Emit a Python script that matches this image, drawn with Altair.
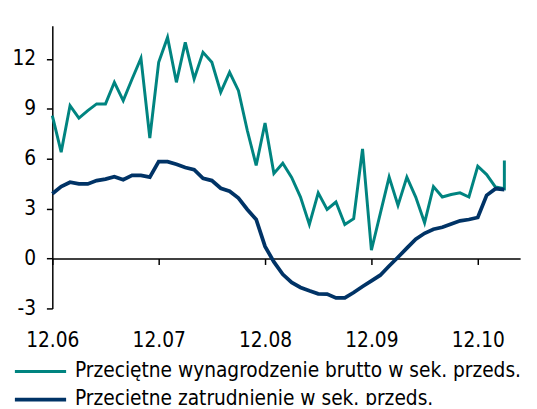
import altair as alt
import pandas as pd

# ---- data ----
series_names = [
    "Przeciętne wynagrodzenie brutto w sek. przeds.",
    "Przeciętne zatrudnienie w sek. przeds.",
]
# month index (0 = 12.06)
wage_idx = list(range(52)) + [51]
wage = [8.6, 6.4, 9.2, 8.45, 8.9, 9.3, 9.3, 10.6, 9.5, 10.8,
        12.05, 7.25, 11.8, 13.3, 10.6, 13.0, 10.8, 12.4, 11.8, 10.0,
        11.2, 10.1, 7.7, 5.6, 8.15, 5.12, 5.73, 4.88, 3.7, 2.05,
        3.95, 2.95, 3.4, 2.05, 2.4, 6.6, 0.5, 2.7, 4.9, 3.2,
        4.9, 3.7, 2.15, 4.33, 3.7, 3.85, 3.95, 3.7, 5.55, 5.05,
        4.3, 4.2, 5.9]
emp_idx = list(range(52))
emp = [3.9, 4.33, 4.59, 4.49, 4.49, 4.69, 4.78, 4.92, 4.74, 5.0,
       5.0, 4.9, 5.83, 5.83, 5.67, 5.48, 5.34, 4.82, 4.69, 4.23,
       4.05, 3.64, 2.95, 2.35, 0.73, -0.2, -0.95, -1.44, -1.74, -1.94,
       -2.12, -2.14, -2.37, -2.37, -2.04, -1.68, -1.34, -1.0, -0.45, 0.08,
       0.63, 1.17, 1.52, 1.76, 1.88, 2.08, 2.27, 2.35, 2.47, 3.8,
       4.2, 4.15]
x_tick_idx = [0, 12, 24, 36, 48]
x_tick_labels = ["12.06", "12.07", "12.08", "12.09", "12.10"]
y_ticks = [-3, 0, 3, 6, 9, 12]

colors = ["#008480", "#003366"]
widths = [3.0, 3.8]

rows = []
for k, (i, v) in enumerate(zip(wage_idx, wage)):
    rows.append({"i": i, "v": v, "series": series_names[0], "seq": k})
for k, (i, v) in enumerate(zip(emp_idx, emp)):
    rows.append({"i": i, "v": v, "series": series_names[1], "seq": k})
df = pd.DataFrame(rows)

FONT = "DejaVu Sans Condensed, DejaVu Sans"
FS = 21

W, H = 475, 287
y_min, y_max = -3, 14
zero_offset = -(H * (0 - y_min) / (y_max - y_min))

label_expr = ""
for t, l in zip(x_tick_idx, x_tick_labels):
    label_expr += f"datum.value == {t} ? '{l}' : "
label_expr += "''"

chart = alt.Chart(df).mark_line(strokeCap="butt", strokeJoin="miter").encode(
    x=alt.X("i:Q",
            scale=alt.Scale(domain=[0, 52.78], nice=False, zero=False),
            axis=alt.Axis(values=x_tick_idx, labelExpr=label_expr,
                          offset=zero_offset, grid=False, title=None,
                          domainColor="black", domainWidth=1.5,
                          tickColor="black", tickWidth=1.5, tickSize=6,
                          labelPadding=66, labelFont=FONT, labelFontSize=FS,
                          labelColor="black", labelFlush=False,
                          labelOverlap=False)),
    y=alt.Y("v:Q",
            scale=alt.Scale(domain=[y_min, y_max], nice=False, zero=False),
            axis=alt.Axis(values=y_ticks, grid=False, title=None,
                          labelExpr="datum.value < 0 ? '-' + abs(datum.value) : '' + datum.value",
                          domainColor="black", domainWidth=1.5,
                          tickColor="black", tickWidth=1.5, tickSize=6,
                          labelPadding=11, labelFont=FONT, labelFontSize=FS,
                          labelColor="black")),
    color=alt.Color("series:N",
                    scale=alt.Scale(domain=series_names, range=colors),
                    legend=alt.Legend(title=None, orient="none",
                                      legendX=-24, legendY=339.5,
                                      direction="vertical",
                                      symbolType="M-2.6,0H2.6",
                                      symbolSize=400,
                                      symbolStrokeWidth=3.5,
                                      labelFont=FONT, labelFontSize=FS,
                                      labelColor="black", labelOffset=23,
                                      rowPadding=6, padding=0,
                                      labelLimit=0)),
    strokeWidth=alt.StrokeWidth("series:N",
                                scale=alt.Scale(domain=series_names, range=widths),
                                legend=None),
    order=alt.Order("seq:Q"),
).properties(
    width=W, height=H,
    autosize=alt.AutoSizeParams(type="none"),
    padding={"left": 45, "top": 15, "right": 9, "bottom": 95},
).configure_view(stroke=None)

chart.save("out.html", embed_options={"renderer": "svg", "actions": False})
